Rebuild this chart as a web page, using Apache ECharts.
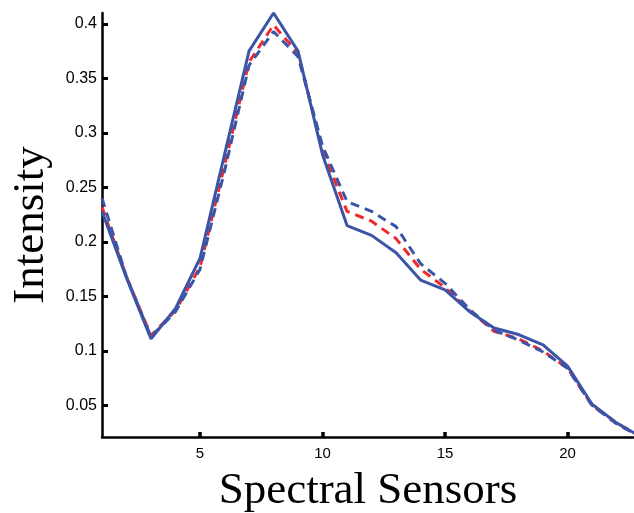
<!DOCTYPE html>
<html>
<head>
<meta charset="utf-8">
<script src="https://cdn.jsdelivr.net/npm/echarts@6/dist/echarts.min.js"></script>
<style>html,body{margin:0;padding:0;background:#fff;}#c{width:634px;height:513px;}</style>
</head>
<body>
<div id="c"></div>
<script>
const sensors = [1,2,3,4,5,6,7,8,9,10,11,12,13,14,15,16,17,18,19,20,21,22,23];
const solidBlue = [0.228,0.167,0.111,0.139,0.185,0.280,0.375,0.410,0.375,0.280,0.215,0.206,0.190,0.165,0.156,0.136,0.121,0.115,0.1055,0.086,0.051,0.034,0.021];
const dashedRed = [0.232,0.168,0.114,0.137,0.177,0.270,0.365,0.399,0.373,0.284,0.228,0.219,0.203,0.175,0.158,0.137,0.118,0.111,0.100,0.084,0.050,0.034,0.021];
const dashedBlue = [0.240,0.168,0.113,0.136,0.175,0.265,0.362,0.393,0.370,0.288,0.237,0.228,0.214,0.180,0.162,0.138,0.119,0.110,0.099,0.084,0.050,0.033,0.021];
const xTicks = [5,10,15,20];
const yTicks = [0.05,0.1,0.15,0.2,0.25,0.3,0.35,0.4];

const pairs = ys => sensors.map((x,i)=>[x, ys[i]]);
const chart = echarts.init(document.getElementById('c'), null, {renderer:'canvas'});
const blue = '#3a55a7', red = '#ee2a2a';
chart.setOption({
  animation:false,
  backgroundColor:'#ffffff',
  grid:{left:102, top:13, right:0, bottom:76, containLabel:false, outerBoundsMode:'none'},
  xAxis:{
    type:'value', min:1, max:22.71,
    name:'Spectral Sensors', nameLocation:'middle', nameGap:32,
    nameTextStyle:{fontFamily:'Liberation Serif', fontSize:45, color:'#000'},
    axisLine:{lineStyle:{color:'#000', width:2.5}},
    axisTick:{inside:true, length:5, lineStyle:{color:'#000', width:3.5}, customValues:xTicks},
    axisLabel:{customValues:xTicks, fontFamily:'Liberation Sans', fontSize:15, color:'#000', margin:9},
    splitLine:{show:false}
  },
  yAxis:{
    type:'value', min:0.021, max:0.41,
    name:'Intensity', nameLocation:'middle', nameGap:48, nameRotate:90,
    nameTextStyle:{fontFamily:'Liberation Serif', fontSize:45, color:'#000'},
    axisLine:{show:true, lineStyle:{color:'#000', width:2.5}},
    axisTick:{show:true, inside:true, length:6, lineStyle:{color:'#000', width:3}, customValues:yTicks},
    axisLabel:{customValues:yTicks, fontFamily:'Liberation Sans', fontSize:16, color:'#000', margin:5},
    splitLine:{show:false}
  },
  series:[
    {type:'line', data:pairs(dashedRed), symbol:'none', clip:true, lineStyle:{color:red, width:3, type:[9,6]}},
    {type:'line', data:pairs(dashedBlue), symbol:'none', clip:true, lineStyle:{color:blue, width:3, type:[9,6]}},
    {type:'line', data:pairs(solidBlue), symbol:'none', clip:true, lineStyle:{color:blue, width:3}}
  ]
});
</script>
</body>
</html>
